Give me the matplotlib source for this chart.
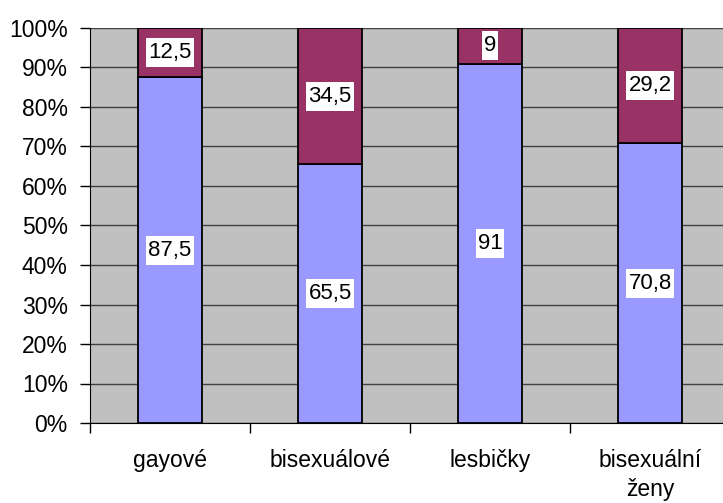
import matplotlib
matplotlib.use("Agg")
import matplotlib.pyplot as plt
from matplotlib.patches import Rectangle
import numpy as np

categories = ["gayové", "bisexuálové", "lesbičky", "bisexuální\nženy"]
series_low = [87.5, 65.5, 91, 70.8]
series_high = [12.5, 34.5, 9, 29.2]
yticks = [0, 10, 20, 30, 40, 50, 60, 70, 80, 90, 100]

plt.rcParams['font.family'] = ['Liberation Sans', 'DejaVu Sans']

fig = plt.figure(figsize=(7.23, 5.03), dpi=100)
ax = fig.add_axes([90/723, 1-423/503, 640/723, (423-28)/503])
ax.set_facecolor("#C0C0C0")

x = np.arange(len(categories))
w = 0.4
ax.bar(x, series_low, width=w, color="#9999FF", edgecolor="black", linewidth=1.3, zorder=3)
ax.bar(x, series_high, width=w, bottom=series_low, color="#993366", edgecolor="black", linewidth=1.3, zorder=3)

def fmt(v):
    s = f"{v:g}"
    return s.replace(".", ",")

texts = []
for xi, lo, hi in zip(x, series_low, series_high):
    texts.append(ax.text(xi, lo/2, fmt(lo), ha="center", va="center", fontsize=16, zorder=6))
    texts.append(ax.text(xi, lo + hi/2, fmt(hi), ha="center", va="center", fontsize=16, zorder=6))

ax.set_xlim(-0.5, len(categories) - 0.5)
ax.set_ylim(0, 100)
ax.set_yticks(yticks)
ax.set_yticklabels([f"{t}%" for t in yticks], fontsize=16.5)
ax.yaxis.grid(True, color="#404040", linewidth=1, zorder=1)
ax.set_axisbelow(True)

ax.set_xticks(np.arange(-0.5, len(categories) - 0.5, 1.0))
ax.set_xticklabels([])
ax.set_xticks(x, minor=True)
ax.set_xticklabels(categories, minor=True, fontsize=16.5, linespacing=1.3)
ax.tick_params(axis="x", which="minor", length=0, pad=19)
ax.tick_params(axis="x", which="major", length=7, width=1, color="black")
ax.tick_params(axis="y", length=7, width=1, color="black", pad=9)

for s in ["top", "right"]:
    ax.spines[s].set_visible(False)
ax.spines["left"].set_color("black")
ax.spines["bottom"].set_color("black")

# white label boxes sized from the rendered text extents
fig.canvas.draw()
r = fig.canvas.get_renderer()
for t in texts:
    bb = t.get_window_extent(r)
    px, py = 2, 4
    rect = Rectangle((bb.x0 - px, bb.y0 - py), bb.width + 2*px, bb.height + 2*py,
                     transform=None, facecolor="white", edgecolor="none", zorder=5)
    ax.add_artist(rect)

fig.savefig("out.png", dpi=100)
